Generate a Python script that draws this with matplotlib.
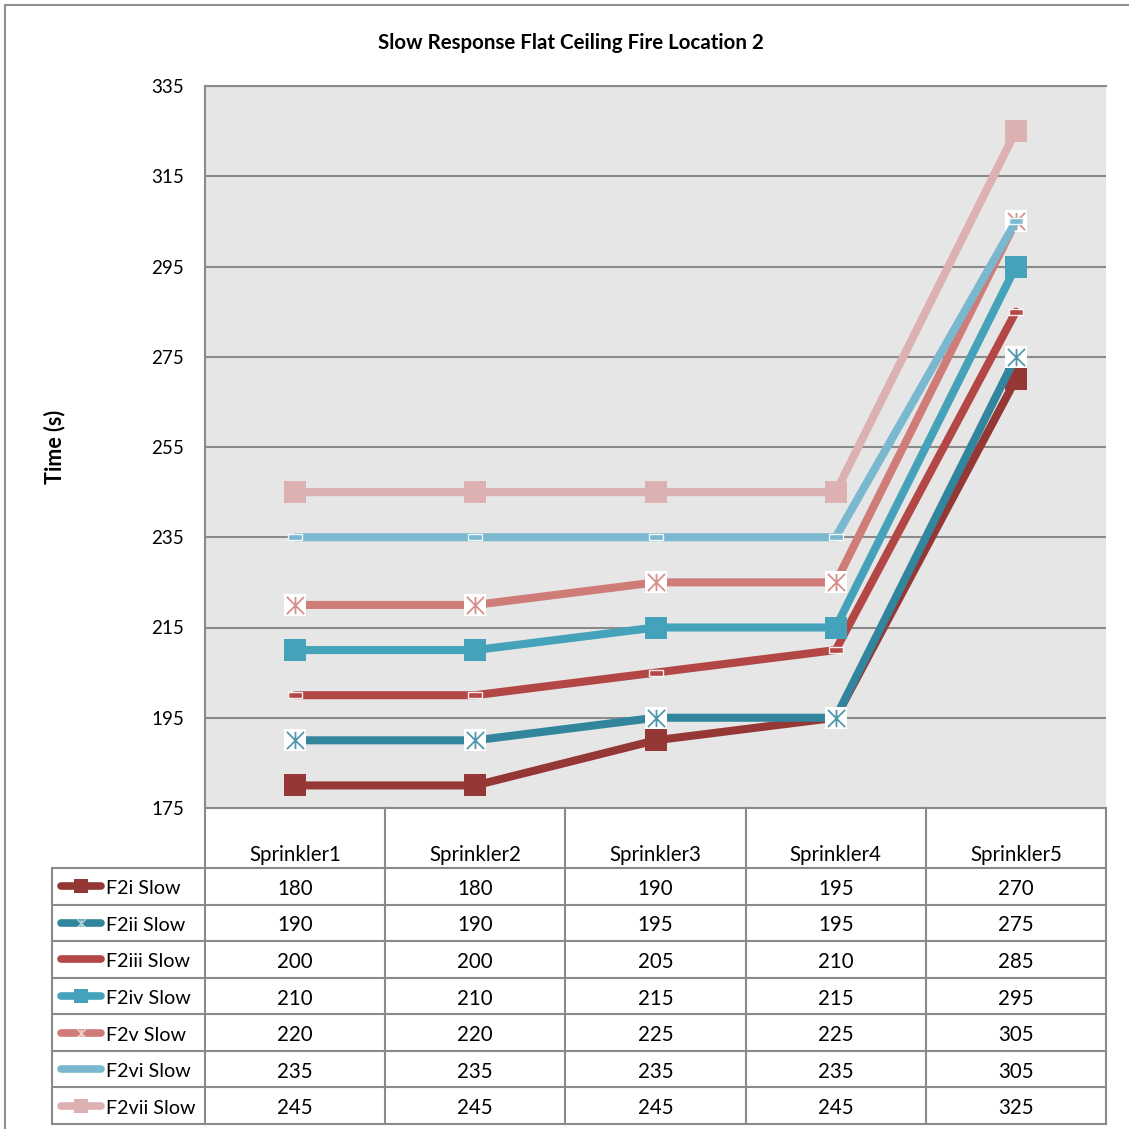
import matplotlib
matplotlib.use('Agg')
import matplotlib.pyplot as plt
from matplotlib.path import Path
from matplotlib.patches import Rectangle

plt.rcParams['font.family'] = ['Lato', 'DejaVu Sans']

categories = ['Sprinkler1', 'Sprinkler2', 'Sprinkler3', 'Sprinkler4', 'Sprinkler5']
f2i = [180, 180, 190, 195, 270]
f2ii = [190, 190, 195, 195, 275]
f2iii = [200, 200, 205, 210, 285]
f2iv = [210, 210, 215, 215, 295]
f2v = [220, 220, 225, 225, 305]
f2vi = [235, 235, 235, 235, 305]
f2vii = [245, 245, 245, 245, 325]

series_names = ['F2i Slow', 'F2ii Slow', 'F2iii Slow', 'F2iv Slow',
                'F2v Slow', 'F2vi Slow', 'F2vii Slow']
series_values = [f2i, f2ii, f2iii, f2iv, f2v, f2vi, f2vii]
colors = ['#953735', '#31859C', '#B34745', '#44A2BB', '#CF7B78', '#79B8CF', '#DDB1B1']
markers = ['square', 'star', 'dash', 'square', 'star', 'dash', 'square']

GRID = '#8a8a8a'
W = H = 1129

star_path = Path([(-1, -1), (1, 1), (-1, 1), (1, -1), (0, -1), (0, 1)],
                 [Path.MOVETO, Path.LINETO, Path.MOVETO, Path.LINETO, Path.MOVETO, Path.LINETO])
dash_path = Path([(-1, -0.4), (1, -0.4), (1, 0.4), (-1, 0.4), (-1, -0.4)],
                 [Path.MOVETO, Path.LINETO, Path.LINETO, Path.LINETO, Path.CLOSEPOLY])


def draw_series(ax, x, y, color, kind, lw, ms, z):
    ax.plot(x, y, '-', color=color, lw=lw, solid_capstyle='round', zorder=z)
    if kind == 'square':
        ax.plot(x, y, 's', color=color, ms=ms, mew=0, zorder=z + 0.1, linestyle='none')
    elif kind == 'star':
        ax.plot(x, y, 's', color='white', ms=ms, mew=0, zorder=z + 0.1, linestyle='none')
        ax.plot(x, y, marker=star_path, color=color, ms=ms * 0.75, mew=1.3,
                zorder=z + 0.2, linestyle='none', alpha=0.85)
    else:
        ax.plot(x, y, marker=dash_path, mfc=color, mec='white', ms=ms * 0.6, mew=1,
                zorder=z + 0.1, linestyle='none', alpha=0.9)


fig = plt.figure(figsize=(W / 100, H / 100), dpi=100)

# outer frame
fig.patches.append(Rectangle((5 / W, -0.02), 1.1, (H - 5) / H + 0.02, transform=fig.transFigure,
                             fill=False, ec='#8f8f8f', lw=1.5))

ax = fig.add_axes([205 / W, (H - 808) / H, (1106 - 205) / W, (808 - 86) / H])
ax.set_facecolor('#E6E6E6')
ax.set_xlim(-0.5, 4.5)
ax.set_ylim(175, 335)
ax.set_yticks(range(175, 336, 20))
ax.set_xticks([])
ax.yaxis.grid(True, color=GRID, lw=1.5)
ax.set_axisbelow(True)
ax.tick_params(axis='y', length=0, pad=15, labelsize=13.5)
for s in ['top', 'left', 'bottom']:
    ax.spines[s].set_color(GRID)
    ax.spines[s].set_linewidth(1.5)
ax.spines['right'].set_visible(False)

x = range(len(categories))
for i, (vals, c, m) in enumerate(zip(series_values, colors, markers)):
    draw_series(ax, x, vals, c, m, lw=5.8, ms=16.5, z=3 + i)

fig.text(571 / W, (H - 43) / H, 'Slow Response Flat Ceiling Fire Location 2',
         ha='center', va='center', fontsize=14.8, fontweight='bold')
fig.text(55 / W, (H - 447) / H, 'Time (s)', rotation=90, ha='center', va='center',
         fontsize=15.5, fontweight='bold')

# data table
row_h = (1124 - 868) / 7
head = (868 - 808) / row_h
left = (52 - 205) / 180.2
tax = fig.add_axes([52 / W, (H - 1124) / H, (1106 - 52) / W, (1124 - 808) / H])
tax.set_xlim(left, 5)
tax.set_ylim(0, 7 + head)
tax.axis('off')
for k in range(8):
    tax.plot([left, 5], [k, k], color=GRID, lw=1.5, clip_on=False)
tax.plot([left, left], [0, 7], color=GRID, lw=1.5, clip_on=False)
for j in range(6):
    tax.plot([j, j], [0, 7 + head], color=GRID, lw=1.5, clip_on=False)

for j, cat in enumerate(categories):
    tax.text(j + 0.5, 7 + head * 0.21, cat, ha='center', va='center', fontsize=14.8)

for k, (name, vals, c, m) in enumerate(zip(series_names, series_values, colors, markers)):
    yc = 7 - k - 0.5
    for j, v in enumerate(vals):
        tax.text(j + 0.5, yc - 0.07, str(v), ha='center', va='center', fontsize=14.8)
    tax.plot([-0.80, -0.575], [yc, yc], color=c, lw=5.5, solid_capstyle='round')
    if m == 'square':
        tax.plot([-0.688], [yc], 's', color=c, ms=10, mew=0)
    elif m == 'star':
        tax.plot([-0.688], [yc], marker=star_path, color='#ffffff', ms=6, mew=1.2, alpha=0.6)
    tax.text(-0.548, yc - 0.07, name, ha='left', va='center', fontsize=14.2)

fig.savefig('out.png', dpi=100)
